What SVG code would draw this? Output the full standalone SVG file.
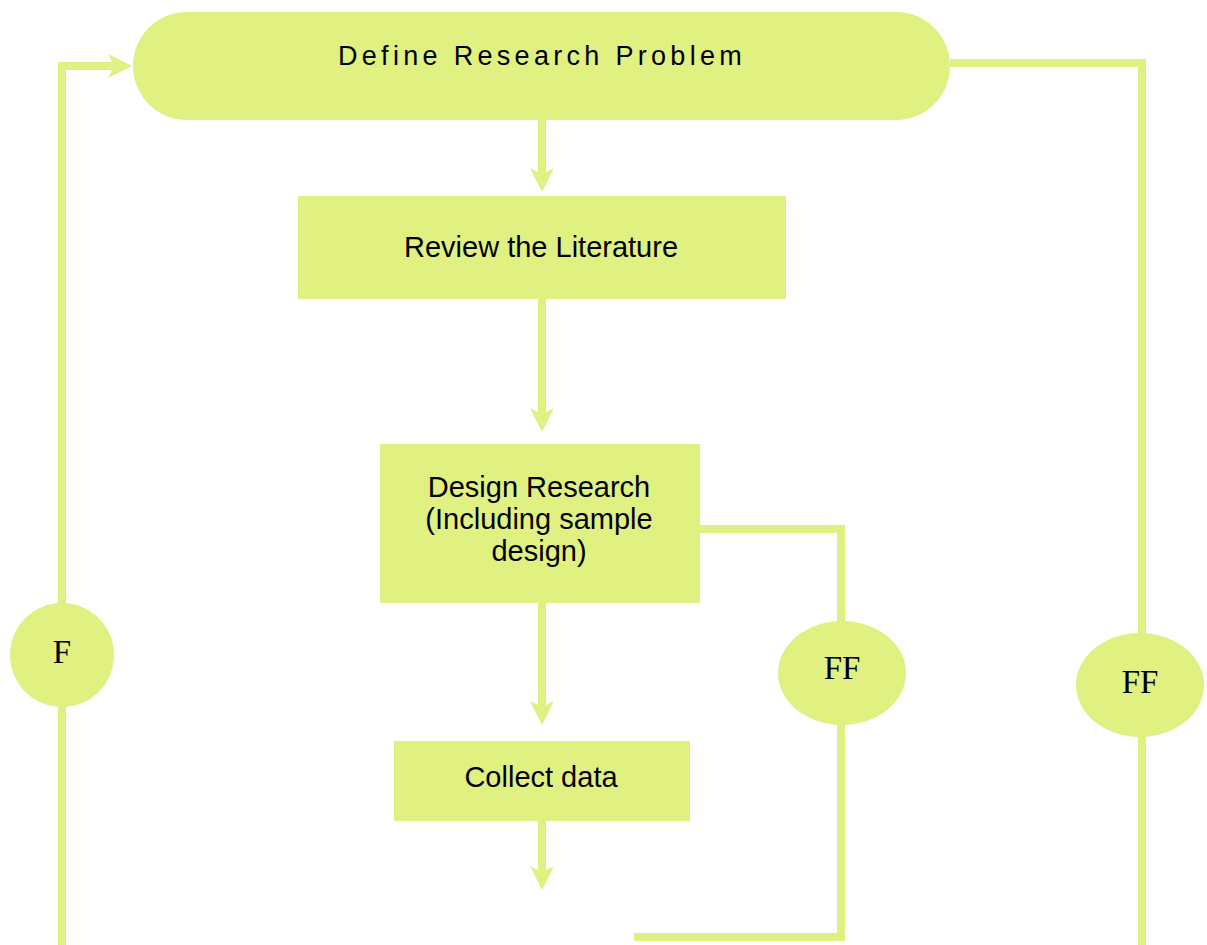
<svg xmlns="http://www.w3.org/2000/svg" width="1207" height="945" viewBox="0 0 1207 945">
  <style>
    .shape { fill: #e0f182; }
    .wire { fill: none; stroke: #e0f182; stroke-width: 8; stroke-linejoin: miter; }
    .sans { font-family: "Liberation Sans", Arial, sans-serif; fill: #000; }
    .serif { font-family: "Liberation Serif", "Times New Roman", serif; fill: #000; font-size: 33px; text-anchor: middle; }
    .box { font-size: 29px; text-anchor: middle; }
  </style>
  <defs>
    <marker id="head" viewBox="-6 -12 24 24" markerWidth="24" markerHeight="24" refX="0" refY="0" orient="auto" markerUnits="userSpaceOnUse">
      <path d="M18,0 L-6,-12 L0,0 L-6,12 Z" fill="#e0f182"/>
    </marker>
  </defs>

  <g id="connectors">
    <path class="wire" d="M542,120 V174" marker-end="url(#head)"/>
    <path class="wire" d="M542,299 V414" marker-end="url(#head)"/>
    <path class="wire" d="M542,603 V707" marker-end="url(#head)"/>
    <path class="wire" d="M542,821 V872" marker-end="url(#head)"/>
    <path class="wire" d="M62,945 V66 H114" marker-end="url(#head)"/>
    <path class="wire" d="M950,63 H1142 V945"/>
    <path class="wire" d="M700,529 H841 V937 H634"/>
  </g>

  <g id="define-problem">
    <rect class="shape" x="133" y="12" width="817" height="108" rx="54" ry="54"/>
    <text class="sans" x="338" y="65" font-size="27" letter-spacing="4.3">Define Research Problem</text>
  </g>

  <g id="review-literature">
    <rect class="shape" x="298" y="196" width="488" height="103"/>
    <text class="sans box" x="541" y="257">Review the Literature</text>
  </g>

  <g id="design-research">
    <rect class="shape" x="380" y="444" width="320" height="159"/>
    <text class="sans box" x="539" y="497">Design Research</text>
    <text class="sans box" x="539" y="529">(Including sample</text>
    <text class="sans box" x="539" y="561">design)</text>
  </g>

  <g id="collect-data">
    <rect class="shape" x="394" y="741" width="296" height="80"/>
    <text class="sans box" x="541" y="787">Collect data</text>
  </g>

  <g id="feedback-f">
    <circle class="shape" cx="62" cy="655" r="52"/>
    <text class="serif" x="62" y="663">F</text>
  </g>

  <g id="feedforward-inner">
    <ellipse class="shape" cx="842" cy="673" rx="64" ry="52"/>
    <text class="serif" x="842" y="679">FF</text>
  </g>

  <g id="feedforward-outer">
    <ellipse class="shape" cx="1140" cy="685" rx="64" ry="52"/>
    <text class="serif" x="1140" y="693">FF</text>
  </g>
</svg>
